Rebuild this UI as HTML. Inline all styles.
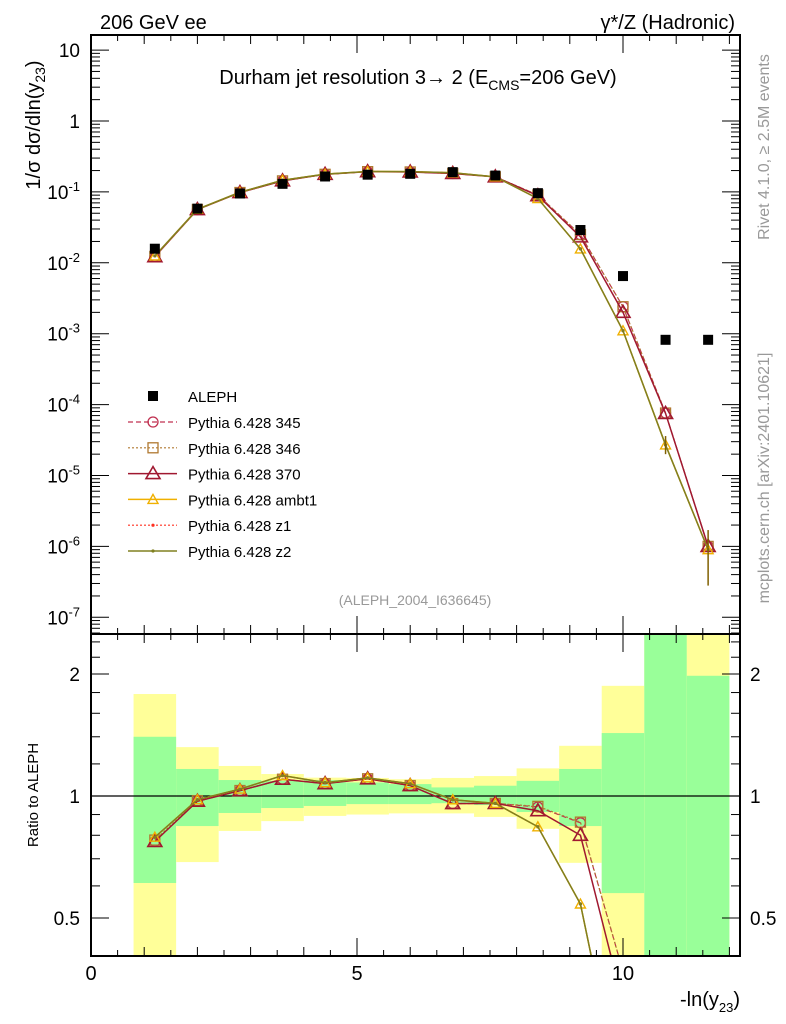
<!DOCTYPE html>
<html><head><meta charset="utf-8"><style>
html,body{margin:0;background:#fff;width:786px;height:1024px;overflow:hidden}
svg{display:block;font-family:"Liberation Sans",sans-serif}
</style></head><body>
<svg id="c" width="786" height="1024">
<g id="bands"></g>
<g id="marks"></g>
<g id="axes"></g>
<text x="100" y="29" font-size="20">206 GeV ee</text>
<text x="735" y="29" font-size="20" text-anchor="end">γ*/Z (Hadronic)</text>
<text x="418" y="84" font-size="20" text-anchor="middle">Durham jet resolution 3→  2 (E<tspan font-size="14" dy="6">CMS</tspan><tspan dy="-6">=206 GeV)</tspan></text>
<text transform="translate(40,125) rotate(-90)" font-size="20" text-anchor="middle">1/σ  dσ/dln(y<tspan font-size="14" dy="5">23</tspan><tspan dy="-5">)</tspan></text>
<text transform="translate(38,795) rotate(-90)" font-size="15" text-anchor="middle">Ratio to ALEPH</text>
<text transform="translate(769,147) rotate(-90)" font-size="16" fill="#999" text-anchor="middle">Rivet 4.1.0, ≥ 2.5M events</text>
<text transform="translate(769,478) rotate(-90)" font-size="16" fill="#999" text-anchor="middle">mcplots.cern.ch [arXiv:2401.10621]</text>
<text x="415" y="605" font-size="14" fill="#999" text-anchor="middle">(ALEPH_2004_I636645)</text>
<text x="740" y="1006" font-size="20" text-anchor="end">-ln(y<tspan font-size="13" dy="6">23</tspan><tspan dy="-6">)</tspan></text>
<g id="legend"></g>
</svg>
<script>
const xs=[1.2,2.0,2.8,3.6,4.4,5.2,6.0,6.8,7.6,8.4,9.2,10.0,10.8,11.6];
const binLo=[0.8,1.6,2.4,3.2,4.0,4.8,5.6,6.4,7.2,8.0,8.8,9.6,10.4,11.2];
const binHi=[1.6,2.4,3.2,4.0,4.8,5.6,6.4,7.2,8.0,8.8,9.6,10.4,11.2,12.0];
const aleph=[0.0158,0.058,0.095,0.130,0.165,0.175,0.180,0.190,0.170,0.096,0.029,0.0065,0.00082,0.00082];
const p345=[0.0122,0.0563,0.0979,0.143,0.177,0.193,0.191,0.182,0.163,0.0902,0.0249,0.0024,7.6e-5,1.0e-6];
const p346=[0.0123,0.0565,0.0980,0.143,0.177,0.193,0.191,0.182,0.163,0.0905,0.0250,0.0024,7.6e-5,1.0e-6];
const p370=[0.0122,0.0563,0.0979,0.143,0.177,0.193,0.191,0.182,0.163,0.0883,0.0232,0.0020,7.5e-5,1.0e-6];
const ambt1=[0.0125,0.0568,0.0988,0.146,0.178,0.194,0.193,0.186,0.163,0.0806,0.0157,0.0011,2.7e-5,9e-7];
const z1=[0.0125,0.0568,0.0988,0.146,0.178,0.194,0.193,0.186,0.163,0.0806,0.0157,0.0011,2.7e-5,9e-7];
const z2=[0.0125,0.0568,0.0988,0.146,0.178,0.194,0.193,0.186,0.163,0.0806,0.0157,0.0011,2.7e-5,9e-7];
const greenLo=[0.61,0.843,0.908,0.934,0.945,0.955,0.955,0.96,0.95,0.913,0.843,0.576,0.2,0.2];
const greenHi=[1.40,1.166,1.095,1.09,1.095,1.08,1.07,1.05,1.06,1.09,1.166,1.43,4,1.98];
const yellowLo=[0.2,0.687,0.82,0.867,0.893,0.90,0.906,0.906,0.888,0.83,0.684,0.2,0.2,0.2];
const yellowHi=[1.785,1.32,1.186,1.133,1.11,1.108,1.10,1.108,1.12,1.17,1.33,1.87,4,4];
const NS="http://www.w3.org/2000/svg";
const L=91,R=740,T=35,M=634,B=956;
const X=v=>L+(v)*53.2;
const Y=v=>121-Math.log10(v)*70.9;
const RY=r=>796-Math.log2(r)*122;
function mk(tag,at,parent){const e=document.createElementNS(NS,tag);for(const k in at)e.setAttribute(k,at[k]);(parent||document.getElementById('c')).appendChild(e);return e;}
const bands=document.getElementById('bands'),marks=document.getElementById('marks'),axes=document.getElementById('axes');
const clip=mk('clipPath',{id:'cr'});mk('rect',{x:L,y:M,width:R-L,height:B-M},clip);
const clip2=mk('clipPath',{id:'ct'});mk('rect',{x:L,y:T,width:R-L,height:M-T},clip2);
bands.setAttribute('clip-path','url(#cr)');
for(let i=0;i<xs.length;i++){
 let e=mk('rect',{x:X(binLo[i]),y:RY(yellowHi[i]),width:X(binHi[i])-X(binLo[i]),height:RY(yellowLo[i])-RY(yellowHi[i]),fill:'#ffff99'},bands);
 
 
 e=mk('rect',{x:X(binLo[i]),y:RY(greenHi[i]),width:X(binHi[i])-X(binLo[i]),height:RY(greenLo[i])-RY(greenHi[i]),fill:'#99ff99'},bands);
 
 
}
const ref=mk('line',{x1:L,x2:R,y1:RY(1),y2:RY(1),stroke:'#000','stroke-width':1.2},bands);


const series=[
 {n:'Pythia 6.428 345',d:p345,c:'#c03050',dash:'5,3',m:'circle',w:1.2},
 {n:'Pythia 6.428 346',d:p346,c:'#b07830',dash:'2,2',m:'square',w:1.2},
 {n:'Pythia 6.428 370',d:p370,c:'#a01830',dash:'',m:'tri',w:1.5},
 {n:'Pythia 6.428 ambt1',d:ambt1,c:'#f0b000',dash:'',m:'stri',w:1.5},
 {n:'Pythia 6.428 z1',d:z1,c:'#ff3020',dash:'2,2',m:'dot',w:1.2},
 {n:'Pythia 6.428 z2',d:z2,c:'#808020',dash:'',m:'dot',w:1.5}];
function marker(g,t,x,y,c){
 if(t==='circle')mk('circle',{cx:x,cy:y,r:5,fill:'none',stroke:c,'stroke-width':1.3},g);
 else if(t==='square')mk('rect',{x:x-5,y:y-5,width:10,height:10,fill:'none',stroke:c,'stroke-width':1.3},g);
 else if(t==='tri')mk('polygon',{points:`${x},${y-7} ${x-7},${y+5} ${x+7},${y+5}`,fill:'none',stroke:c,'stroke-width':1.6},g);
 else if(t==='stri')mk('polygon',{points:`${x},${y-5} ${x-5},${y+4} ${x+5},${y+4}`,fill:'none',stroke:c,'stroke-width':1.4},g);
 else mk('circle',{cx:x,cy:y,r:1.6,fill:c},g);
}
const gt=mk('g',{'clip-path':'url(#ct)'},marks);
const gr=mk('g',{'clip-path':'url(#cr)'},marks);
for(const s of series){
 let p=mk('polyline',{points:xs.map((x,i)=>X(x)+','+Y(s.d[i])).join(' '),fill:'none',stroke:s.c,'stroke-width':s.w,'stroke-dasharray':s.dash},gt);
 
 
 p=mk('polyline',{points:xs.map((x,i)=>X(x)+','+RY(s.d[i]/aleph[i])).join(' '),fill:'none',stroke:s.c,'stroke-width':s.w,'stroke-dasharray':s.dash},gr);
 
 
 xs.forEach((x,i)=>{marker(gt,s.m,X(x),Y(s.d[i]),s.c);const r=s.d[i]/aleph[i];if(r>0.35)marker(gr,s.m,X(x),RY(r),s.c);});
}
xs.forEach((x,i)=>{const e=mk('rect',{x:X(x)-5,y:Y(aleph[i])-5,width:10,height:10,fill:'#000'},gt);
 
 });
mk('line',{x1:X(10.8),x2:X(10.8),y1:Y(3.6e-5),y2:Y(2.0e-5),stroke:'#806000','stroke-width':1.5},gt);
mk('line',{x1:X(11.6),x2:X(11.6),y1:Y(1.7e-6),y2:Y(2.8e-7),stroke:'#806000','stroke-width':1.5},gt);
mk('rect',{x:L,y:T,width:R-L,height:B-T,fill:'none',stroke:'#000','stroke-width':2},axes);
mk('line',{x1:L,x2:R,y1:M,y2:M,stroke:'#000','stroke-width':2},axes);
for(let v=0;v<=12;v+=0.5){const maj=(v%5===0);const len=maj?18:(v%1===0?9:6);
 for(const [y0,d] of [[T,1],[M,-1],[M,1],[B,-1]]) mk('line',{x1:X(v),x2:X(v),y1:y0,y2:y0+d*len,stroke:'#000','stroke-width':1},axes);}
[0,5,10].forEach(v=>{const t=mk('text',{x:X(v),y:980,'font-size':20,'text-anchor':'middle'},axes);t.textContent=v;
 
 });
for(let e=-8;e<=1;e++){for(let k=1;k<10;k++){const v=k*Math.pow(10,e);const y=Y(v);if(y<T||y>M)continue;const len=k===1?18:9;
 mk('line',{x1:L,x2:L+len,y1:y,y2:y,stroke:'#000','stroke-width':1},axes);mk('line',{x1:R,x2:R-len,y1:y,y2:y,stroke:'#000','stroke-width':1},axes);}
 if(e>=-7){const y=Y(Math.pow(10,e));const t=mk('text',{x:80,y:y+7,'font-size':19,'text-anchor':'end'},axes);
  
  
  if(e===1)t.textContent='10';else if(e===0)t.textContent='1';else{t.textContent='10';const s=mk('tspan',{'font-size':13,dy:-8},t);s.textContent=String(e);}}}
[0.4,0.5,0.6,0.7,0.8,0.9,1,1.2,1.4,1.6,1.8,2,2.2,2.4].forEach(r=>{const y=RY(r);if(y<M||y>B)return;const len=(r===0.5||r===1||r===2)?18:9;
 mk('line',{x1:L,x2:L+len,y1:y,y2:y,stroke:'#000','stroke-width':1},axes);mk('line',{x1:R,x2:R-len,y1:y,y2:y,stroke:'#000','stroke-width':1},axes);});
[[2,'2'],[1,'1'],[0.5,'0.5']].forEach(([r,s])=>{let t=mk('text',{x:80,y:RY(r)+7,'font-size':19,'text-anchor':'end'},axes);t.textContent=s;
 
 
 t=mk('text',{x:750,y:RY(r)+7,'font-size':19},axes);t.textContent=s;
 
 });
const lg=document.getElementById('legend');
mk('rect',{x:148,y:391,width:10,height:10,fill:'#000'},lg);
let lt=mk('text',{x:188,y:402,'font-size':15},lg);lt.textContent='ALEPH';


series.forEach((s,i)=>{const y=422+i*25.8;
 mk('line',{x1:128,x2:177,y1:y,y2:y,stroke:s.c,'stroke-width':s.w,'stroke-dasharray':s.dash},lg);
 marker(lg,s.m,153,y,s.c);
 const t=mk('text',{x:188,y:y+6,'font-size':15},lg);t.textContent=s.n;
 
 });
</script>
</body></html>
